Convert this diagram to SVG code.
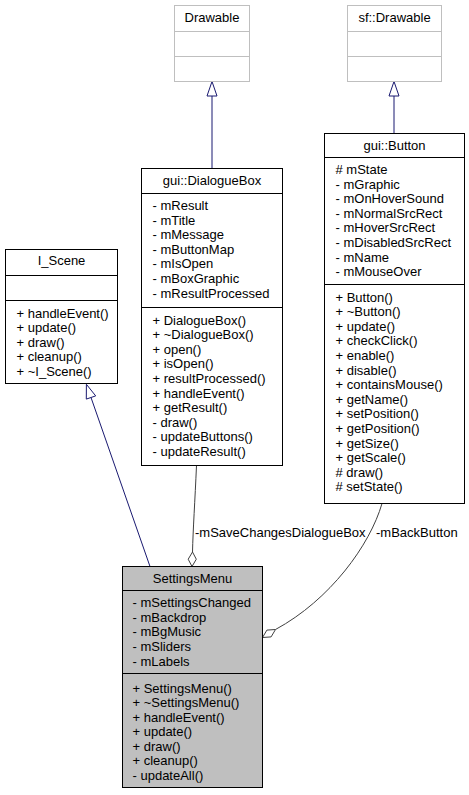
<svg xmlns="http://www.w3.org/2000/svg" width="469" height="795" viewBox="0 0 469 795">
<style>
text{font-family:"Liberation Sans",Arial,sans-serif;font-size:13px;fill:#000}
.t{text-anchor:middle}
.box{fill:#fff;stroke:#000;stroke-width:1}
.ext{fill:#fff;stroke:#bfbfbf;stroke-width:1}
.cur{fill:#bfbfbf;stroke:#000;stroke-width:1}
.dv{stroke:#000;stroke-width:1}
.dvg{stroke:#bfbfbf;stroke-width:1}
.inh{fill:none;stroke:#191970;stroke-width:1}
.tri{fill:#fff;stroke:#191970;stroke-width:1}
.agg{fill:none;stroke:#404040;stroke-width:1}
.dia{fill:#fff;stroke:#404040;stroke-width:1}
</style>
<rect width="469" height="795" fill="#fff"/>
<g id="connectors">
<path class="inh" d="M212,168.5 V96"/>
<polygon class="tri" points="212,81.5 207,96 217,96"/>
<path class="inh" d="M394,133.5 V96"/>
<polygon class="tri" points="394,81.5 389,96 399,96"/>
<path class="inh" d="M91,397.5 L150,566.5"/>
<polygon class="tri" points="86.4,384.3 95.7,395.9 86.3,399.1"/>
<path class="agg" d="M196.5,465.5 C195,500 193,530 192.5,552"/>
<polygon class="dia" points="192,566.5 196.3,559.2 192.5,552 188.2,559.2"/>
<text x="195" y="537">-mSaveChangesDialogueBox</text>
<path class="agg" d="M382,503.5 C370,545 330,600 275.5,629.5"/>
<polygon class="dia" points="262.5,637.5 271.1,636.9 275.5,629.5 266.9,630.1"/>
<text x="376" y="537">-mBackButton</text>
</g>
<g id="Drawable">
<rect class="ext" x="174.5" y="5.5" width="75" height="76"/>
<line class="dvg" x1="174.5" y1="31.5" x2="249.5" y2="31.5"/>
<line class="dvg" x1="174.5" y1="56.5" x2="249.5" y2="56.5"/>
<text class="t" x="212" y="22">Drawable</text>
</g>
<g id="sf_Drawable">
<rect class="ext" x="347.5" y="5.5" width="94" height="76"/>
<line class="dvg" x1="347.5" y1="31.5" x2="441.5" y2="31.5"/>
<line class="dvg" x1="347.5" y1="56.5" x2="441.5" y2="56.5"/>
<text class="t" x="394.5" y="22">sf::Drawable</text>
</g>
<g id="I_Scene">
<rect class="box" x="5.5" y="249.5" width="112" height="134"/>
<line class="dv" x1="5.5" y1="275.5" x2="117.5" y2="275.5"/>
<line class="dv" x1="5.5" y1="300.5" x2="117.5" y2="300.5"/>
<text class="t" x="61.5" y="265">I_Scene</text>
<text x="16.5" y="317.5">+ handleEvent()</text>
<text x="16.5" y="332">+ update()</text>
<text x="16.5" y="346.5">+ draw()</text>
<text x="16.5" y="361">+ cleanup()</text>
<text x="16.5" y="375.5">+ ~I_Scene()</text>
</g>
<g id="DialogueBox">
<rect class="box" x="141.5" y="168.5" width="141" height="297"/>
<line class="dv" x1="141.5" y1="193.5" x2="282.5" y2="193.5"/>
<line class="dv" x1="141.5" y1="307.5" x2="282.5" y2="307.5"/>
<text class="t" x="212" y="185">gui::DialogueBox</text>
<text x="152.5" y="210">- mResult</text>
<text x="152.5" y="224.6">- mTitle</text>
<text x="152.5" y="239.2">- mMessage</text>
<text x="152.5" y="253.8">- mButtonMap</text>
<text x="152.5" y="268.4">- mIsOpen</text>
<text x="152.5" y="283">- mBoxGraphic</text>
<text x="152.5" y="297.6">- mResultProcessed</text>
<text x="152.5" y="324.5">+ DialogueBox()</text>
<text x="152.5" y="339.1">+ ~DialogueBox()</text>
<text x="152.5" y="353.7">+ open()</text>
<text x="152.5" y="368.3">+ isOpen()</text>
<text x="152.5" y="382.9">+ resultProcessed()</text>
<text x="152.5" y="397.5">+ handleEvent()</text>
<text x="152.5" y="412.1">+ getResult()</text>
<text x="152.5" y="426.7">- draw()</text>
<text x="152.5" y="441.3">- updateButtons()</text>
<text x="152.5" y="455.9">- updateResult()</text>
</g>
<g id="Button">
<rect class="box" x="324.5" y="133.5" width="140" height="370"/>
<line class="dv" x1="324.5" y1="157.5" x2="464.5" y2="157.5"/>
<line class="dv" x1="324.5" y1="284.5" x2="464.5" y2="284.5"/>
<text class="t" x="394.5" y="149.5">gui::Button</text>
<text x="335.5" y="174"># mState</text>
<text x="335.5" y="188.6">- mGraphic</text>
<text x="335.5" y="203.2">- mOnHoverSound</text>
<text x="335.5" y="217.8">- mNormalSrcRect</text>
<text x="335.5" y="232.4">- mHoverSrcRect</text>
<text x="335.5" y="247">- mDisabledSrcRect</text>
<text x="335.5" y="261.6">- mName</text>
<text x="335.5" y="276.2">- mMouseOver</text>
<text x="335.5" y="301.5">+ Button()</text>
<text x="335.5" y="316.1">+ ~Button()</text>
<text x="335.5" y="330.7">+ update()</text>
<text x="335.5" y="345.3">+ checkClick()</text>
<text x="335.5" y="359.9">+ enable()</text>
<text x="335.5" y="374.5">+ disable()</text>
<text x="335.5" y="389.1">+ containsMouse()</text>
<text x="335.5" y="403.7">+ getName()</text>
<text x="335.5" y="418.3">+ setPosition()</text>
<text x="335.5" y="432.9">+ getPosition()</text>
<text x="335.5" y="447.5">+ getSize()</text>
<text x="335.5" y="462.1">+ getScale()</text>
<text x="335.5" y="476.7"># draw()</text>
<text x="335.5" y="491.3"># setState()</text>
</g>
<g id="SettingsMenu">
<rect class="cur" x="122.5" y="566.5" width="140" height="221"/>
<line class="dv" x1="122.5" y1="590.5" x2="262.5" y2="590.5"/>
<line class="dv" x1="122.5" y1="673.5" x2="262.5" y2="673.5"/>
<text class="t" x="192.5" y="583">SettingsMenu</text>
<text x="132.5" y="607">- mSettingsChanged</text>
<text x="132.5" y="621.7">- mBackdrop</text>
<text x="132.5" y="636.4">- mBgMusic</text>
<text x="132.5" y="651.1">- mSliders</text>
<text x="132.5" y="665.8">- mLabels</text>
<text x="132.5" y="692.8">+ SettingsMenu()</text>
<text x="132.5" y="707.3">+ ~SettingsMenu()</text>
<text x="132.5" y="721.8">+ handleEvent()</text>
<text x="132.5" y="736.3">+ update()</text>
<text x="132.5" y="750.8">+ draw()</text>
<text x="132.5" y="765.3">+ cleanup()</text>
<text x="132.5" y="779.8">- updateAll()</text>
</g>
</svg>
